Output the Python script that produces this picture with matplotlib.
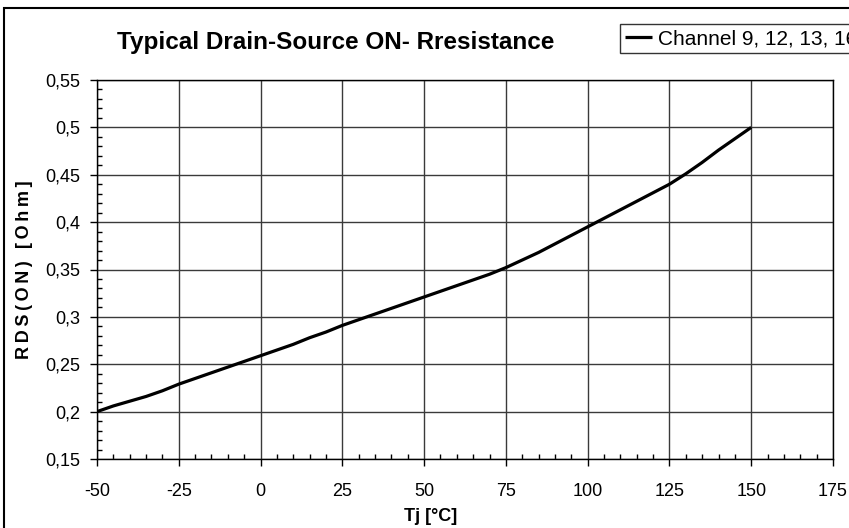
import matplotlib
matplotlib.use("Agg")
import matplotlib.pyplot as plt
from matplotlib.patches import Rectangle
from matplotlib.ticker import MultipleLocator

FONT = ['Liberation Sans', 'DejaVu Sans']

# Data
tj = [-50, -45, -40, -35, -30, -25, -20, -15, -10, -5, 0, 5, 10, 15, 20, 25, 30, 35, 40, 45,
      50, 55, 60, 65, 70, 75, 80, 85, 90, 95, 100, 105, 110, 115, 120, 125, 130, 135, 140, 145, 150]
rds = [0.200, 0.206, 0.211, 0.216, 0.222, 0.229, 0.235, 0.241, 0.247, 0.253, 0.259, 0.265, 0.271,
       0.278, 0.284, 0.291, 0.297, 0.303, 0.309, 0.315, 0.321, 0.327, 0.333, 0.339, 0.345, 0.352,
       0.360, 0.368, 0.377, 0.386, 0.395, 0.404, 0.413, 0.422, 0.431, 0.440, 0.451, 0.463, 0.476,
       0.488, 0.500]
x_ticks = [-50, -25, 0, 25, 50, 75, 100, 125, 150, 175]
x_labels = ['-50', '-25', '0', '25', '50', '75', '100', '125', '150', '175']
y_ticks = [0.15, 0.2, 0.25, 0.3, 0.35, 0.4, 0.45, 0.5, 0.55]
y_labels = ['0,15', '0,2', '0,25', '0,3', '0,35', '0,4', '0,45', '0,5', '0,55']
series_name = 'Channel 9, 12, 13, 16'
title = 'Typical Drain-Source ON- Rresistance'
x_title = 'Tj [°C]'
y_title = 'RDS(ON) [Ohm]'

W, H = 849, 528
fig = plt.figure(figsize=(W / 100, H / 100), dpi=100)
ax = fig.add_axes([97 / W, 1 - 459 / H, (833 - 97) / W, (459 - 80) / H])

line, = ax.plot(tj, rds, color='black', lw=2.3, solid_capstyle='butt', label=series_name)

ax.set_xlim(-50, 175)
ax.set_ylim(0.15, 0.55)
ax.set_xticks(x_ticks)
ax.set_xticklabels(x_labels, fontfamily=FONT, fontsize=13)
ax.set_yticks(y_ticks)
ax.set_yticklabels(y_labels, fontfamily=FONT, fontsize=13)
ax.xaxis.set_minor_locator(MultipleLocator(5))
ax.yaxis.set_minor_locator(MultipleLocator(0.01))
ax.tick_params(which='major', direction='out', length=5, width=1, color='black')
ax.tick_params(which='minor', direction='in', length=3.5, width=1, color='black')
ax.tick_params(axis='y', which='major', pad=7)
ax.tick_params(axis='x', which='major', pad=12.5)
ax.grid(True, which='major', color='#3a3a3a', lw=1)
ax.set_axisbelow(True)
for s in ax.spines.values():
    s.set_color('black')
    s.set_linewidth(1)

fig.text(431 / W, 1 - 521 / H, x_title, fontfamily=FONT, fontsize=13, fontweight='bold',
         ha='center', va='baseline')
fig.text(24.5 / W, 1 - 270 / H, '\u2009'.join(y_title), fontfamily=FONT, fontsize=13,
         fontweight='bold', rotation=90, ha='center', va='center')

fig.text(336 / W, 1 - 43 / H, title, fontfamily=FONT, fontsize=17.5, fontweight='bold',
         ha='center', va='center')

leg = fig.legend(handles=[line], loc='upper left', bbox_to_anchor=(620 / W, 1 - 24 / H),
                 prop={'family': FONT, 'size': 15}, frameon=True, fancybox=False,
                 handlelength=1.3, handletextpad=0.25, borderpad=0.25, borderaxespad=0)
leg.get_frame().set_edgecolor('black')
leg.get_frame().set_linewidth(1)

fig.patches.append(Rectangle((4 / W, -0.1), 1.2, 1 - 8 / H + 0.1, transform=fig.transFigure,
                             fill=False, edgecolor='black', lw=1.5))

fig.savefig('out.png', dpi=100)
